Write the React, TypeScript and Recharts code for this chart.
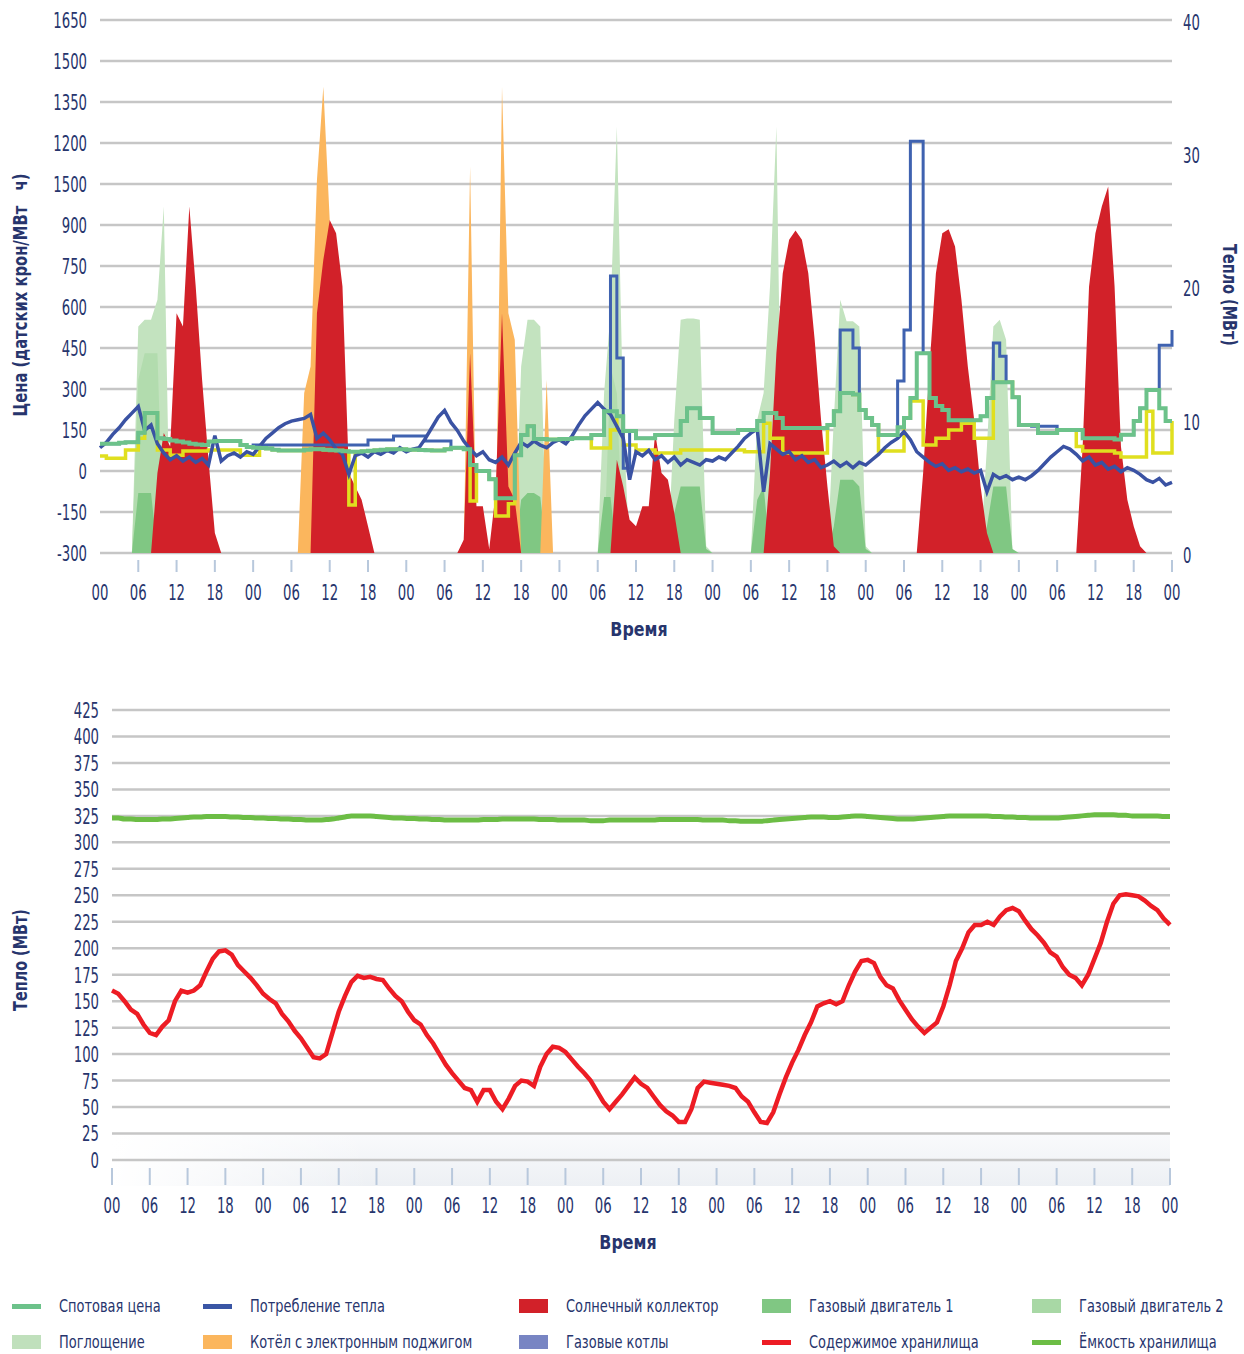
import React from 'react';
import { ComposedChart, Area, Line, XAxis, YAxis, CartesianGrid } from 'recharts';

// ---------- axis ticks / labels ----------
const priceTicks = [-300, -150, 0, 150, 300, 450, 600, 750, 900, 1050, 1200, 1350, 1500, 1650];
const priceTickLabels = ['-300', '-150', '0', '150', '300', '450', '600', '750', '900', '1500', '1200', '1350', '1500', '1650'];
const heatTicks = [0, 10, 20, 30, 40];
const timeTicks = [0, 6, 12, 18, 24, 30, 36, 42, 48, 54, 60, 66, 72, 78, 84, 90, 96, 102, 108, 114, 120, 126, 132, 138, 144, 150, 156, 162, 168];
const timeTickLabels = ['00', '06', '12', '18', '00', '06', '12', '18', '00', '06', '12', '18', '00', '06', '12', '18', '00', '06', '12', '18', '00', '06', '12', '18', '00', '06', '12', '18', '00'];
const storageTicks = [0, 25, 50, 75, 100, 125, 150, 175, 200, 225, 250, 275, 300, 325, 350, 375, 400, 425];

// ---------- top chart: prices (left axis, DKK/MWh), hourly ----------
const spotPrice = [
  100, 100, 100, 103, 105, 105, 140, 212, 212, 120,
  117, 112, 108, 104, 100, 97, 95, 108, 110, 110,
  110, 110, 95, 88, 85, 84, 82, 78, 75, 75,
  75, 75, 78, 80, 80, 78, 76, 75, 72, 70,
  70, 72, 74, 76, 78, 80, 80, 80, 78, 78,
  77, 76, 75, 75, 80, 85, 85, 80, 22, 0,
  0, -30, -100, -100, -100, 58, 132, 164, 117, 117,
  115, 115, 117, 117, 120, 120, 120, 132, 132, 219,
  219, 200, 146, 146, 120, 120, 120, 132, 132, 132,
  132, 183, 230, 230, 194, 194, 139, 139, 139, 139,
  150, 150, 150, 183, 212, 212, 194, 157, 157, 157,
  157, 157, 157, 157, 168, 219, 285, 285, 280, 223,
  194, 168, 132, 132, 132, 160, 194, 267, 431, 431,
  267, 238, 223, 186, 186, 186, 186, 186, 200, 267,
  325, 325, 325, 270, 168, 168, 168, 139, 139, 139,
  150, 150, 150, 150, 120, 120, 120, 120, 120, 115,
  133, 133, 183, 230, 296, 296, 230, 183, 183,
];

const yellowPrice = [
  55, 47, 47, 47, 77, 77, 120, 212, 212, 77,
  77, 58, 58, 73, 73, 73, 73, 77, 77, 77,
  77, 77, 58, 58, 58, 84, 82, 78, 75, 75,
  75, 75, 78, 80, 80, 78, 76, 75, 72, -124,
  70, 72, 74, 76, 78, 80, 80, 80, 78, 78,
  77, 76, 75, 75, 80, 85, 85, 80, -110, 0,
  0, -30, -165, -165, -120, 58, 132, 164, 117, 117,
  115, 115, 117, 117, 120, 120, 120, 84, 84, 84,
  150, 200, 95, 95, 77, 77, 77, 66, 66, 66,
  66, 77, 77, 77, 77, 77, 77, 77, 77, 77,
  77, 70, 70, 70, 175, 120, 120, 66, 66, 66,
  66, 66, 66, 66, 168, 219, 285, 285, 280, 223,
  194, 168, 73, 73, 73, 73, 194, 256, 256, 95,
  95, 120, 120, 150, 150, 175, 175, 120, 120, 120,
  325, 325, 325, 270, 168, 168, 168, 139, 139, 139,
  150, 150, 150, 90, 73, 73, 73, 73, 73, 66,
  51, 51, 51, 51, 219, 66, 66, 66, 183,
];

const bluePrice = [
  100, 100, 100, 103, 105, 105, 140, 212, 212, 120,
  117, 112, 108, 104, 100, 97, 95, 108, 110, 110,
  110, 110, 95, 88, 95, 95, 95, 95, 95, 95,
  95, 95, 95, 95, 95, 95, 95, 95, 95, 95,
  95, 95, 113, 113, 113, 113, 128, 128, 128, 128,
  128, 110, 110, 110, 110, 85, 85, 80, 22, 0,
  0, -30, -100, -100, -100, 58, 132, 164, 117, 117,
  115, 115, 117, 117, 120, 120, 120, 132, 132, 219,
  713, 413, 10, 146, 120, 120, 120, 132, 132, 132,
  132, 183, 230, 230, 194, 194, 139, 139, 139, 139,
  150, 150, 150, 183, 212, 212, 194, 157, 157, 157,
  157, 157, 157, 157, 168, 219, 516, 516, 450, 223,
  194, 168, 132, 132, 132, 329, 516, 1206, 1206, 431,
  267, 238, 223, 186, 186, 186, 186, 186, 200, 267,
  468, 420, 325, 270, 168, 168, 164, 164, 164, 164,
  150, 150, 150, 150, 120, 120, 120, 120, 120, 115,
  133, 133, 183, 230, 296, 296, 460, 460, 516,
];

// ---------- top chart: heat (right axis, MW), hourly ----------
const heatConsumption = [
  7.9, 8.3, 8.9, 9.4, 10.0, 10.5, 11.0, 9.2, 9.6, 8.2,
  7.5, 7.0, 7.3, 6.9, 7.2, 6.8, 7.1, 6.6, 8.8, 6.9,
  7.3, 7.5, 7.2, 7.6, 7.4, 8.0, 8.6, 9.0, 9.4, 9.7,
  9.9, 10.0, 10.1, 10.4, 8.6, 9.0, 8.5, 7.8, 7.4, 5.9,
  7.3, 7.5, 7.2, 7.6, 7.4, 7.7, 7.5, 7.9, 7.6, 7.8,
  7.9, 8.6, 9.4, 10.2, 10.7, 9.8, 9.2, 8.4, 7.8, 7.3,
  7.6, 7.0, 6.8, 7.2, 6.6, 7.5, 8.3, 8.0, 8.4, 8.1,
  7.9, 8.3, 8.5, 8.2, 8.8, 9.6, 10.3, 10.8, 11.3, 10.8,
  10.4, 9.5, 8.6, 5.5, 7.6, 7.3, 7.7, 7.0, 7.3, 6.8,
  7.2, 6.6, 7.0, 6.8, 6.6, 7.0, 6.9, 7.2, 7.0, 7.5,
  8.0, 8.6, 9.0, 9.3, 4.6, 8.2, 7.8, 7.4, 7.6, 7.0,
  7.3, 6.8, 7.0, 6.4, 6.6, 6.9, 6.5, 6.8, 6.4, 6.8,
  6.6, 7.0, 7.4, 7.9, 8.3, 8.6, 9.1, 8.5, 7.6, 7.2,
  6.8, 6.5, 6.7, 6.2, 6.4, 6.1, 6.3, 6.0, 6.2, 4.6,
  5.9, 5.6, 5.8, 5.5, 5.7, 5.5, 5.8, 6.2, 6.7, 7.2,
  7.6, 8.0, 7.8, 7.4, 6.9, 7.2, 6.6, 6.8, 6.3, 6.5,
  6.1, 6.4, 6.2, 5.9, 5.5, 5.3, 5.6, 5.1, 5.3,
];

// sparse [hour, MW] readings; hours not listed are 0
const solarCollector: [number, number][] = [
  [9, 6], [10, 9], [11, 8], [12, 18], [13, 17], [14, 26], [15, 20], [16, 13], [17, 7], [18, 1.5],
  [34, 18], [35, 22], [36, 25], [37, 24], [38, 20], [39, 6], [40, 5], [41, 4], [42, 2],
  [57, 1], [58, 15], [59, 3.5], [60, 3.5], [61, 0.3], [62, 4.5], [63, 18], [64, 5], [65, 4],
  [81, 7], [82, 5], [83, 2.5], [84, 2], [85, 3.5], [86, 3.5], [87, 9], [88, 6], [89, 5.5], [90, 3],
  [105, 6], [106, 15], [107, 21], [108, 23.5], [109, 24.2], [110, 23.5], [111, 21], [112, 16], [113, 10], [114, 5], [115, 0.5],
  [129, 6], [130, 14], [131, 21], [132, 24], [133, 24.3], [134, 23], [135, 19], [136, 14], [137, 10], [138, 5], [139, 1.5],
  [154, 8], [155, 20], [156, 24], [157, 26], [158, 27.5], [159, 20], [160, 8], [161, 4], [162, 2], [163, 0.5],
];
const electricBoiler: [number, number][] = [
  [32, 12], [33, 14], [34, 28], [35, 35], [36, 25],
  [58, 29], [63, 35], [64, 18], [65, 16], [70, 13],
];
const gasEngine1: [number, number][] = [
  [6, 4.5], [7, 4.5], [8, 4.5],
  [66, 4], [67, 4.5], [68, 4.5], [69, 4.2],
  [79, 4.2], [80, 4.2],
  [90, 3], [91, 5], [92, 5], [93, 5], [94, 5], [95, 0.3],
  [103, 4], [104, 5],
  [115, 2], [116, 5.5], [117, 5.5], [118, 5.5], [119, 5], [120, 0.3],
  [139, 2], [140, 5], [141, 5], [142, 5], [143, 0.3],
];
const gasEngine2: [number, number][] = [
  [6, 13], [7, 15], [8, 15], [9, 15],
  [80, 14], [81, 12],
];
const absorption: [number, number][] = [
  [6, 17], [7, 17.5], [8, 17.5], [9, 19], [10, 26],
  [66, 14], [67, 17.5], [68, 17.5], [69, 17],
  [79, 12], [80, 18], [81, 32], [82, 10],
  [90, 10], [91, 17.5], [92, 17.6], [93, 17.6], [94, 17.5], [95, 0.5],
  [103, 10], [104, 12], [105, 20], [106, 32],
  [115, 10], [116, 19], [117, 17.4], [118, 17.4], [119, 17], [120, 0.5],
  [139, 8], [140, 17], [141, 17.5], [142, 16],
];

// ---------- bottom chart: storage (MW), hourly ----------
const storageContent = [
  160, 157, 150, 142, 138, 128, 120, 118, 126, 132,
  150, 160, 158, 160, 165, 178, 190, 197, 198, 194,
  184, 178, 172, 165, 157, 152, 148, 138, 131, 122,
  115, 106, 97, 96, 100, 120, 140, 155, 168, 174,
  172, 173, 171, 170, 162, 155, 150, 140, 132, 128,
  118, 110, 100, 90, 82, 75, 68, 66, 55, 66,
  66, 55, 48, 58, 70, 75, 74, 70, 88, 100,
  107, 106, 102, 95, 88, 82, 75, 65, 55, 48,
  55, 62, 70, 78, 72, 68, 60, 52, 46, 42,
  36, 36, 48, 68, 74, 73, 72, 71, 70, 68,
  60, 55, 45, 36, 35, 45, 62, 78, 92, 104,
  118, 130, 145, 148, 150, 147, 150, 165, 178, 188,
  189, 186, 173, 165, 162, 151, 142, 133, 126, 120,
  125, 130, 145, 165, 188, 200, 215, 222, 222, 225,
  222, 230, 236, 238, 235, 226, 218, 212, 205, 196,
  192, 182, 175, 172, 165, 175, 190, 205, 225, 242,
  250, 251, 250, 249, 245, 240, 236, 228, 222,
];
const storageCapacity = [
  323, 323, 322, 322, 321.5, 321.5, 321.5, 321.5, 322, 322, 322.5, 323, 323.5, 324, 324, 324.5, 324.5, 324.5, 324.5, 324, 324, 323.5, 323.5, 323,
  323, 322.5, 322.5, 322, 322, 321.5, 321.5, 321, 321, 321, 321.5, 322, 323, 324, 325, 325, 325, 325, 324.5, 324, 323.5, 323, 323, 322.5,
  322.5, 322, 322, 321.5, 321.5, 321, 321, 321, 321, 321, 321, 321.5, 321.5, 321.5, 322, 322, 322, 322, 322, 322, 321.5, 321.5, 321.5, 321,
  321, 321, 321, 321, 320.5, 320.5, 320.5, 321, 321, 321, 321, 321, 321, 321, 321, 321.5, 321.5, 321.5, 321.5, 321.5, 321.5, 321.5, 321, 321,
  321, 321, 320.5, 320.5, 320, 320, 320, 320, 320.5, 321, 321.5, 322, 322.5, 323, 323.5, 324, 324, 324, 323.5, 323.5, 324, 324.5, 325, 325,
  324.5, 324, 323.5, 323, 322.5, 322, 322, 322, 322.5, 323, 323.5, 324, 324.5, 325, 325, 325, 325, 325, 325, 325, 324.5, 324.5, 324, 324,
  323.5, 323.5, 323, 323, 323, 323, 323, 323.5, 324, 324.5, 325, 325.5, 326, 326, 326, 326, 325.5, 325.5, 325, 325, 325, 325, 325, 324.5, 324.5,
];

// ---------- legend ----------
const legendRow1 = [
  { name: 'Спотовая цена', color: '#6cc28a', kind: 'line', x: 12 },
  { name: 'Потребление тепла', color: '#3a56a5', kind: 'line', x: 203 },
  { name: 'Солнечный коллектор', color: '#d22129', kind: 'rect', x: 519 },
  { name: 'Газовый двигатель 1', color: '#80c783', kind: 'rect', x: 762 },
  { name: 'Газовый двигатель 2', color: '#a8d8a5', kind: 'rect', x: 1032 },
];
const legendRow2 = [
  { name: 'Поглощение', color: '#c0e0bc', kind: 'rect', x: 12 },
  { name: 'Котёл с электронным поджигом', color: '#fbb65d', kind: 'rect', x: 203 },
  { name: 'Газовые котлы', color: '#7885c3', kind: 'rect', x: 519 },
  { name: 'Содержимое хранилища', color: '#ed1c24', kind: 'line', x: 762 },
  { name: 'Ёмкость хранилища', color: '#6cbd45', kind: 'line', x: 1032 },
];

// ---------- build tables ----------
const HOURS = spotPrice.map((_, i) => i);
const fromPairs = (pairs: [number, number][]) => {
  const m = new Map(pairs);
  return HOURS.map((h) => m.get(h) ?? 0);
};
const solarArr = fromPairs(solarCollector);
const boilerArr = fromPairs(electricBoiler);
const gas1Arr = fromPairs(gasEngine1);
const gas2Arr = fromPairs(gasEngine2);
const absArr = fromPairs(absorption);

const topData = HOURS.map((h, i) => ({
  h,
  spot: spotPrice[i],
  yellow: yellowPrice[i],
  blueStep: bluePrice[i],
  consumption: heatConsumption[i],
  solar: solarArr[i],
  boiler: boilerArr[i],
  gas1: gas1Arr[i],
  gas2: gas2Arr[i],
  absorption: absArr[i],
}));
const bottomData = HOURS.map((h, i) => ({ h, content: storageContent[i], capacity: storageCapacity[i] }));

// ---------- styling ----------
const FONT = "'Liberation Sans Narrow', 'DejaVu Sans Condensed', 'Liberation Sans', sans-serif";
const NAVY = '#27356d';
const GRID = '#c6c6c6';
const TICKLINE = '#b8c8dc';

function CondText(props: any) {
  const { x, y, anchor, children, size = 22, sx = 0.67 } = props;
  return (
    <g transform={`translate(${x},${y}) scale(${sx},1)`}>
      <text x={0} y={0} dy="0.36em" textAnchor={anchor} fontFamily={FONT} fontSize={size} fill={NAVY}>
        {children}
      </text>
    </g>
  );
}

const makeXTick = (lineFrom: number, lineTo: number, labelOff: number, skipFirstLine: boolean) => (p: any) => {
  const { x, y, payload, index } = p;
  const i = timeTicks.indexOf(payload.value);
  return (
    <g>
      {!(skipFirstLine && index === 0) && (
        <line x1={x} x2={x} y1={y + lineFrom} y2={y + lineTo} stroke={TICKLINE} strokeWidth={2} />
      )}
      <CondText x={x} y={y + labelOff} anchor="middle">{timeTickLabels[i]}</CondText>
    </g>
  );
};

const LeftPriceTick = (p: any) => {
  const i = priceTicks.indexOf(p.payload.value);
  return <CondText x={p.x} y={p.y} anchor="end">{priceTickLabels[i]}</CondText>;
};
const RightHeatTick = (p: any) => <CondText x={p.x} y={p.y + 2} anchor="start">{String(p.payload.value)}</CondText>;
const StorageTick = (p: any) => <CondText x={p.x} y={p.y} anchor="end">{String(p.payload.value)}</CondText>;

const titleStyle: React.CSSProperties = {
  position: 'absolute',
  fontFamily: FONT,
  fontWeight: 'bold',
  fontSize: 20,
  color: NAVY,
  whiteSpace: 'pre',
  lineHeight: '24px',
};

function LegendItem({ item, y }: { item: any; y: number }) {
  const sw = item.kind === 'line'
    ? { left: item.x, top: y - 2.5, width: 29, height: 5 }
    : { left: item.x, top: y - 7, width: 29, height: 14 };
  return (
    <>
      <div style={{ position: 'absolute', background: item.color, ...sw }} />
      <div
        style={{
          position: 'absolute',
          left: item.x + 47,
          top: y - 12,
          fontFamily: FONT,
          fontSize: 18,
          lineHeight: '24px',
          color: NAVY,
          whiteSpace: 'nowrap',
          transform: 'scaleX(0.8)',
          transformOrigin: 'left center',
        }}
      >
        {item.name}
      </div>
    </>
  );
}

export default function App() {
  return (
    <div style={{ position: 'absolute', left: 0, top: 0, width: 1244, height: 1354, background: '#fff', overflow: 'hidden' }}>
      {/* TOP CHART */}
      <div style={{ position: 'absolute', left: 0, top: 0 }}>
        <ComposedChart width={1244} height={640} data={topData} margin={{ top: 20, right: 22, bottom: 37, left: 0 }}>
          <CartesianGrid yAxisId="price" vertical={false} stroke={GRID} strokeWidth={2.5} />
          <XAxis
            dataKey="h"
            type="number"
            domain={[0, 168]}
            ticks={timeTicks}
            interval={0}
            axisLine={false}
            tickLine={false}
            tickSize={0}
            tickMargin={0}
            height={50}
            tick={makeXTick(7, 19, 39, true)}
          />
          <YAxis
            yAxisId="price"
            orientation="left"
            type="number"
            domain={[-300, 1650]}
            ticks={priceTicks}
            interval={0}
            width={100}
            axisLine={false}
            tickLine={false}
            tickSize={0}
            tickMargin={13}
            tick={LeftPriceTick}
          />
          <YAxis
            yAxisId="heat"
            orientation="right"
            type="number"
            domain={[0, 40]}
            ticks={heatTicks}
            interval={0}
            width={50}
            axisLine={false}
            tickLine={false}
            tickSize={0}
            tickMargin={11}
            tick={RightHeatTick}
          />
          <Area yAxisId="heat" dataKey="absorption" type="linear" stroke="none" fill="#c3e3bf" fillOpacity={1} isAnimationActive={false} dot={false} activeDot={false} />
          <Area yAxisId="heat" dataKey="gas2" type="linear" stroke="none" fill="#b2dcae" fillOpacity={1} isAnimationActive={false} dot={false} activeDot={false} />
          <Area yAxisId="heat" dataKey="gas1" type="linear" stroke="none" fill="#80c783" fillOpacity={1} isAnimationActive={false} dot={false} activeDot={false} />
          <Area yAxisId="heat" dataKey="boiler" type="linear" stroke="none" fill="#fbb65d" fillOpacity={1} isAnimationActive={false} dot={false} activeDot={false} />
          <Area yAxisId="heat" dataKey="solar" type="linear" stroke="none" fill="#d22129" fillOpacity={1} isAnimationActive={false} dot={false} activeDot={false} />
          <Line yAxisId="price" dataKey="yellow" type="stepAfter" stroke="#e0df1f" strokeWidth={3.5} dot={false} activeDot={false} isAnimationActive={false} />
          <Line yAxisId="price" dataKey="blueStep" type="stepAfter" stroke="#3f62b0" strokeWidth={3} dot={false} activeDot={false} isAnimationActive={false} />
          <Line yAxisId="heat" dataKey="consumption" type="linear" stroke="#3a52a3" strokeWidth={3.5} dot={false} activeDot={false} isAnimationActive={false} />
          <Line yAxisId="price" dataKey="spot" type="stepAfter" stroke="#6cc28a" strokeWidth={4} dot={false} activeDot={false} isAnimationActive={false} />
        </ComposedChart>
      </div>

      {/* bottom band shading */}
      <div
        style={{
          position: 'absolute',
          left: 112,
          top: 1134,
          width: 1058,
          height: 52,
          background: 'linear-gradient(to right, #ffffff 0px, rgba(255,255,255,0) 260px), linear-gradient(to bottom, #f9fafc, #edf0f4)',
        }}
      />

      {/* BOTTOM CHART */}
      <div style={{ position: 'absolute', left: 0, top: 660 }}>
        <ComposedChart width={1244} height={600} data={bottomData} margin={{ top: 50, right: 74, bottom: 40, left: 0 }}>
          <CartesianGrid vertical={false} stroke={GRID} strokeWidth={2.5} />
          <XAxis
            dataKey="h"
            type="number"
            domain={[0, 168]}
            ticks={timeTicks}
            interval={0}
            axisLine={false}
            tickLine={false}
            tickSize={0}
            tickMargin={0}
            height={60}
            tick={makeXTick(8, 25, 45, false)}
          />
          <YAxis
            type="number"
            domain={[0, 425]}
            ticks={storageTicks}
            interval={0}
            width={112}
            axisLine={false}
            tickLine={false}
            tickSize={0}
            tickMargin={13}
            tick={StorageTick}
          />
          <Line dataKey="capacity" type="monotone" stroke="#6cbd45" strokeWidth={5} dot={false} activeDot={false} isAnimationActive={false} />
          <Line dataKey="content" type="linear" stroke="#ed1c24" strokeWidth={4.5} dot={false} activeDot={false} isAnimationActive={false} />
        </ComposedChart>
      </div>

      {/* axis titles */}
      <div style={{ ...titleStyle, left: 20, top: 295, transform: 'translate(-50%, -50%) rotate(-90deg) scaleX(0.82)' }}>Цена (датских крон/МВт   ч)</div>
      <div style={{ ...titleStyle, left: 1230, top: 295, transform: 'translate(-50%, -50%) rotate(90deg) scaleX(0.8)' }}>Тепло (МВт)</div>
      <div style={{ ...titleStyle, left: 639, top: 629, transform: 'translate(-50%, -50%) scaleX(0.88)' }}>Время</div>
      <div style={{ ...titleStyle, left: 20, top: 960, transform: 'translate(-50%, -50%) rotate(-90deg) scaleX(0.8)' }}>Тепло (МВт)</div>
      <div style={{ ...titleStyle, left: 628, top: 1242, transform: 'translate(-50%, -50%) scaleX(0.88)' }}>Время</div>

      {/* legend */}
      {legendRow1.map((it) => <LegendItem key={it.name} item={it} y={1306} />)}
      {legendRow2.map((it) => <LegendItem key={it.name} item={it} y={1342} />)}
    </div>
  );
}
